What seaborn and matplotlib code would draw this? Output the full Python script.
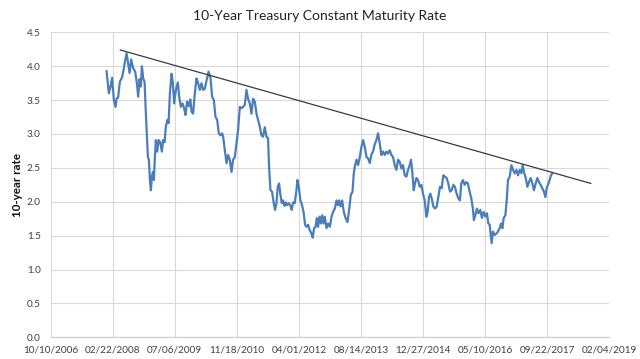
import matplotlib
matplotlib.use("Agg")
import matplotlib.pyplot as plt
import matplotlib.dates as mdates
from matplotlib.ticker import FixedLocator, FormatStrFormatter
import numpy as np
import pandas as pd
import seaborn as sns

title = "10-Year Treasury Constant Maturity Rate"
y_label = "10-year rate"
x_tick_labels = ["10/10/2006", "02/22/2008", "07/06/2009", "11/18/2010", "04/01/2012",
                 "08/14/2013", "12/27/2014", "05/10/2016", "09/22/2017", "02/04/2019"]
y_ticks = [0.0, 0.5, 1.0, 1.5, 2.0, 2.5, 3.0, 3.5, 4.0, 4.5]

# weekly-ish observations, dates as decimal years
rate_years = [
    2008.008, 2008.058, 2008.096, 2008.131, 2008.169, 2008.206, 2008.228, 2008.263, 2008.301, 2008.352,
    2008.389, 2008.418, 2008.449, 2008.477, 2008.515, 2008.550, 2008.594, 2008.638, 2008.676, 2008.704,
    2008.735, 2008.764, 2008.786, 2008.814, 2008.845, 2008.867, 2008.896, 2008.918, 2008.940, 2008.962,
    2008.984, 2009.006, 2009.028, 2009.050, 2009.072, 2009.094, 2009.123, 2009.153, 2009.189, 2009.226,
    2009.255, 2009.286, 2009.314, 2009.352, 2009.374, 2009.403, 2009.440, 2009.469, 2009.497, 2009.535,
    2009.579, 2009.608, 2009.645, 2009.682, 2009.717, 2009.748, 2009.783, 2009.821, 2009.854, 2009.880,
    2009.915, 2009.953, 2009.990, 2010.026, 2010.064, 2010.101, 2010.137, 2010.174, 2010.212, 2010.256,
    2010.300, 2010.335, 2010.373, 2010.410, 2010.446, 2010.483, 2010.521, 2010.556, 2010.578, 2010.615,
    2010.653, 2010.688, 2010.725, 2010.763, 2010.798, 2010.836, 2010.873, 2010.908, 2010.946, 2010.983,
    2011.018, 2011.056, 2011.093, 2011.128, 2011.166, 2011.203, 2011.239, 2011.276, 2011.314, 2011.349,
    2011.386, 2011.424, 2011.459, 2011.497, 2011.534, 2011.569, 2011.591, 2011.622, 2011.657, 2011.695,
    2011.724, 2011.755, 2011.783, 2011.812, 2011.843, 2011.871, 2011.900, 2011.931, 2011.959, 2011.988,
    2012.025, 2012.063, 2012.091, 2012.120, 2012.158, 2012.195, 2012.217, 2012.246, 2012.283, 2012.319,
    2012.356, 2012.385, 2012.416, 2012.451, 2012.488, 2012.526, 2012.554, 2012.583, 2012.614, 2012.643,
    2012.671, 2012.702, 2012.731, 2012.760, 2012.791, 2012.819, 2012.857, 2012.892, 2012.930, 2012.967,
    2013.002, 2013.040, 2013.077, 2013.106, 2013.134, 2013.165, 2013.201, 2013.238, 2013.276, 2013.320,
    2013.355, 2013.392, 2013.430, 2013.458, 2013.487, 2013.518, 2013.553, 2013.591, 2013.628, 2013.663,
    2013.701, 2013.738, 2013.773, 2013.811, 2013.848, 2013.883, 2013.921, 2013.958, 2013.993, 2014.031,
    2014.068, 2014.104, 2014.141, 2014.178, 2014.214, 2014.251, 2014.289, 2014.324, 2014.361, 2014.399,
    2014.434, 2014.472, 2014.509, 2014.545, 2014.582, 2014.619, 2014.655, 2014.692, 2014.721, 2014.752,
    2014.780, 2014.809, 2014.840, 2014.875, 2014.913, 2014.950, 2014.985, 2015.023, 2015.060, 2015.089,
    2015.117, 2015.148, 2015.177, 2015.214, 2015.249, 2015.287, 2015.324, 2015.359, 2015.397, 2015.434,
    2015.469, 2015.507, 2015.544, 2015.581, 2015.618, 2015.655, 2015.690, 2015.728, 2015.765, 2015.800,
    2015.831, 2015.866, 2015.904, 2015.941, 2015.976, 2016.014, 2016.051, 2016.086, 2016.108, 2016.139,
    2016.175, 2016.212, 2016.249, 2016.285, 2016.322, 2016.360, 2016.395, 2016.426, 2016.455, 2016.477,
    2016.499, 2016.527, 2016.565, 2016.602, 2016.638, 2016.676, 2016.704, 2016.735, 2016.764, 2016.801,
    2016.830, 2016.859, 2016.896, 2016.933, 2016.969, 2017.006, 2017.044, 2017.079, 2017.116, 2017.154,
    2017.182, 2017.211, 2017.249, 2017.286, 2017.321, 2017.359, 2017.396, 2017.431, 2017.469, 2017.506,
    2017.541, 2017.579, 2017.616, 2017.651, 2017.682, 2017.711, 2017.739, 2017.778, 2017.806, 2017.837,
]
rate_values = [
    3.93, 3.60, 3.70, 3.83, 3.50, 3.40, 3.52, 3.54, 3.77, 3.84,
    3.97, 4.09, 4.19, 4.07, 3.90, 4.10, 3.97, 3.92, 3.75, 3.55,
    3.81, 3.70, 4.00, 3.82, 3.77, 3.40, 2.96, 2.66, 2.62, 2.32,
    2.17, 2.37, 2.44, 2.32, 2.66, 2.91, 2.74, 2.91, 2.88, 2.74,
    2.91, 2.88, 3.11, 3.21, 3.16, 3.60, 3.89, 3.75, 3.45, 3.65,
    3.76, 3.55, 3.40, 3.45, 3.38, 3.28, 3.48, 3.41, 3.51, 3.33,
    3.30, 3.60, 3.82, 3.75, 3.65, 3.75, 3.65, 3.67, 3.79, 3.92,
    3.82, 3.55, 3.50, 3.25, 3.21, 3.01, 2.98, 3.01, 2.96, 2.76,
    2.57, 2.69, 2.62, 2.44, 2.62, 2.66, 2.86, 3.06, 3.40, 3.38,
    3.40, 3.43, 3.65, 3.52, 3.45, 3.30, 3.52, 3.48, 3.30, 3.21,
    3.11, 2.98, 2.96, 3.10, 2.96, 2.94, 2.52, 2.17, 2.15, 1.98,
    1.88, 1.98, 2.22, 2.27, 2.10, 1.98, 2.02, 1.94, 1.99, 1.95,
    1.98, 1.94, 1.88, 1.99, 1.98, 2.17, 2.32, 2.22, 2.02, 1.95,
    1.83, 1.66, 1.63, 1.66, 1.58, 1.53, 1.47, 1.61, 1.63, 1.76,
    1.63, 1.78, 1.68, 1.80, 1.68, 1.78, 1.61, 1.68, 1.63, 1.78,
    1.85, 1.90, 2.02, 1.95, 2.02, 1.93, 2.02, 1.85, 1.76, 1.70,
    1.88, 2.10, 2.15, 2.42, 2.54, 2.62, 2.54, 2.66, 2.81, 2.91,
    2.81, 2.66, 2.64, 2.57, 2.70, 2.74, 2.85, 2.91, 3.01, 2.86,
    2.69, 2.74, 2.69, 2.74, 2.71, 2.76, 2.69, 2.66, 2.54, 2.47,
    2.62, 2.59, 2.49, 2.54, 2.39, 2.37, 2.47, 2.54, 2.62, 2.42,
    2.17, 2.27, 2.35, 2.32, 2.22, 2.25, 2.12, 2.02, 1.78, 1.85,
    2.07, 2.12, 2.05, 1.93, 1.90, 1.93, 2.07, 2.22, 2.20, 2.39,
    2.37, 2.35, 2.27, 2.15, 2.17, 2.25, 2.22, 2.12, 2.05, 2.02,
    2.27, 2.32, 2.25, 2.29, 2.27, 2.15, 2.05, 1.90, 1.73, 1.80,
    1.90, 1.83, 1.88, 1.76, 1.85, 1.78, 1.83, 1.68, 1.66, 1.53,
    1.39, 1.56, 1.51, 1.53, 1.56, 1.61, 1.68, 1.61, 1.76, 1.80,
    2.02, 2.32, 2.37, 2.54, 2.47, 2.42, 2.47, 2.39, 2.47, 2.42,
    2.54, 2.44, 2.35, 2.22, 2.29, 2.35, 2.27, 2.17, 2.27, 2.35,
    2.29, 2.25, 2.20, 2.15, 2.07, 2.20, 2.25, 2.32, 2.39, 2.42,
]

trend_years = [2008.307, 2018.688]
trend_values = [4.24, 2.27]


def year_to_ts(y):
    yr = int(np.floor(y))
    start = pd.Timestamp(year=yr, month=1, day=1)
    end = pd.Timestamp(year=yr + 1, month=1, day=1)
    return start + (end - start) * (y - yr)


df = pd.DataFrame({"date": [year_to_ts(y) for y in rate_years], "rate": rate_values})
trend_df = pd.DataFrame({"date": [year_to_ts(y) for y in trend_years], "rate": trend_values})
tick_dates = pd.to_datetime(x_tick_labels, format="%m/%d/%Y")

sns.set_theme(style="white")
plt.rcParams["font.family"] = ["Lato", "DejaVu Sans"]

fig = plt.figure(figsize=(6.4, 3.59), dpi=100)
ax = fig.add_axes([0.079, 0.0604, 0.873, 0.8496])

sns.lineplot(data=df, x="date", y="rate", color="#4a7ebb", linewidth=1.6, ax=ax)
sns.lineplot(data=trend_df, x="date", y="rate", color="#3a3a3a", linewidth=0.9, ax=ax)

ax.set_xlim(mdates.date2num(tick_dates[0]), mdates.date2num(tick_dates[-1]))
ax.set_ylim(y_ticks[0], y_ticks[-1])
ax.xaxis.set_major_locator(FixedLocator(mdates.date2num(tick_dates)))
ax.set_xticklabels(x_tick_labels)
ax.yaxis.set_major_locator(FixedLocator(y_ticks))
ax.yaxis.set_major_formatter(FormatStrFormatter("%.1f"))

ax.grid(True, color="#d9d9d9", linewidth=0.8)
ax.set_axisbelow(True)
for s in ["top", "right", "left"]:
    ax.spines[s].set_visible(False)
ax.spines["bottom"].set_color("#d0d0d0")
ax.spines["bottom"].set_linewidth(0.9)

ax.tick_params(axis="both", length=0, labelsize=7.2, labelcolor="#404040")
ax.tick_params(axis="x", pad=6)
ax.tick_params(axis="y", pad=7)

ax.set_xlabel("")
ax.set_ylabel(y_label, fontsize=8.4, fontweight="bold", color="#111111")
ax.yaxis.set_label_coords(-0.05, 0.5)

fig.text(0.5, 0.955, title, ha="center", va="center", fontsize=10, color="#222222")

fig.savefig("out.png", dpi=100)
